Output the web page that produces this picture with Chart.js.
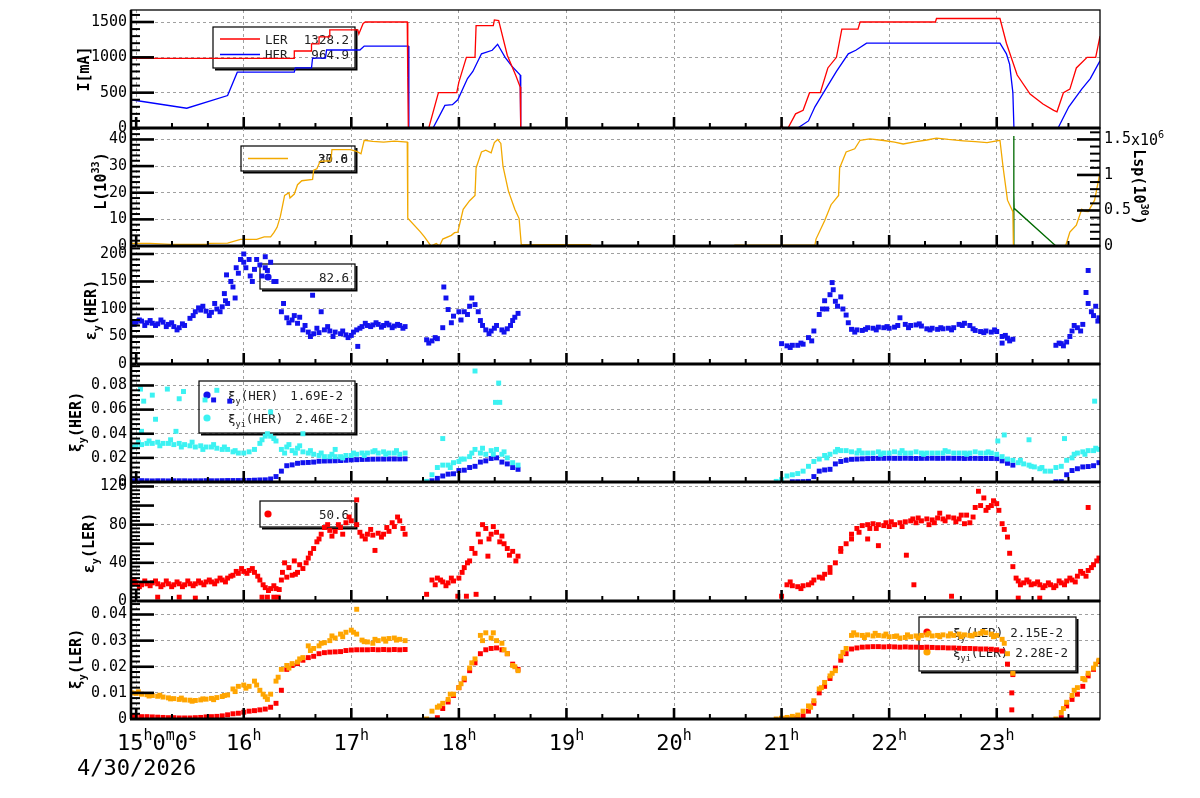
<!DOCTYPE html>
<html>
<head>
<meta charset="utf-8">
<title>Beam trend</title>
<script src="https://cdn.jsdelivr.net/npm/chart.js@4.4.1/dist/chart.umd.min.js"></script>
<style>
  body { margin: 0; background: #fff; width: 1200px; height: 798px; overflow: hidden; position: relative; }
  canvas { position: absolute; left: 0; }
</style>
</head>
<body>
<script>
// ---- time axis (hours of 4/30/2026) ----
const X_MIN = 14.952, X_MAX = 23.96
const hourTicks = [15, 16, 17, 18, 19, 20, 21, 22, 23]

// scan times of the scatter series (hours)
const tScan = [
  14.96,15.00,15.05,15.10,15.15,15.20,15.25,15.30,15.35,15.40,
  15.45,15.50,15.55,15.60,15.65,15.70,15.75,15.80,15.85,15.90,
  15.95,16.00,16.05,16.10,16.15,16.20,16.25,16.30,16.35,16.40,
  16.45,16.50,16.55,16.60,16.65,16.70,16.75,16.80,16.85,16.90,
  16.95,17.00,17.05,17.10,17.15,17.20,17.25,17.30,17.35,17.40,
  17.45,17.50,
  17.70,17.75,17.80,17.85,17.90,17.95,18.00,18.05,18.10,18.15,
  18.20,18.25,18.30,18.35,18.40,18.45,18.50,18.55,
  20.95,21.00,21.05,21.10,21.15,21.20,21.25,21.30,21.35,21.40,
  21.45,21.50,21.55,21.60,21.65,21.70,21.75,21.80,21.85,21.90,
  21.95,22.00,22.05,22.10,22.15,22.20,22.25,22.30,22.35,22.40,
  22.45,22.50,22.55,22.60,22.65,22.70,22.75,22.80,22.85,22.90,
  22.95,23.00,23.05,23.10,23.15,
  23.20,23.25,23.30,23.35,23.40,23.45,
  23.50,23.55,23.60,23.65,23.70,23.75,23.80,23.85,23.90,23.95
]

// ---- beam currents [mA] ----
const tLER = [14.952,16.47,16.47,16.63,16.63,16.70,16.70,16.80,16.80,17.06,17.07,17.11,17.13,17.52,17.525,17.53,
  17.72,17.81,17.98,18.00,18.05,18.07,18.15,18.16,18.32,18.33,18.37,18.45,18.53,18.57,18.575,
  20.98,21.00,21.02,21.06,21.13,21.20,21.26,21.36,21.43,21.51,
  21.56,21.71,21.73,22.43,22.44,23.03,23.09,23.19,23.31,23.43,
  23.53,23.56,23.62,23.68,23.74,23.84,23.92,23.96]
const iLER = [985,985,1090,1090,1190,1190,1290,1290,1390,1390,1330,1480,1500,1500,720,0,
  0,500,500,650,900,1000,1000,1450,1450,1530,1520,1030,740,580,0,
  0,30,0,0,200,250,500,500,850,1000,
  1400,1400,1500,1500,1550,1550,1200,750,480,340,
  250,230,500,550,850,1000,1000,1300]
const tHER = [14.952,15.47,15.85,15.94,16.47,16.48,16.63,16.64,16.76,16.77,17.08,17.12,17.53,17.535,
  17.76,17.87,17.94,17.99,18.08,18.13,18.21,18.31,18.36,18.43,18.49,18.57,18.575,
  21.15,21.25,21.31,21.39,21.51,21.62,21.69,21.79,23.03,23.09,23.12,23.15,23.16,
  23.57,23.67,23.79,23.87,23.96]
const iHER = [400,280,460,790,790,850,850,990,990,1104,1104,1160,1160,0,
  0,320,330,400,700,800,1050,1100,1185,1000,880,750,0,
  0,100,300,500,800,1050,1100,1200,1200,1050,900,500,0,
  0,300,550,700,950]

// ---- luminosity L [1e33] and Lsp [1e30 x 1e6] ----
const tLum = [14.952,15.13,15.32,15.66,15.67,15.85,15.97,16.12,16.19,16.25,
  16.28,16.31,16.34,16.36,16.38,16.42,16.43,16.47,16.50,16.54,
  16.64,16.65,16.68,16.71,16.81,16.82,16.99,17.05,17.09,17.12,
  17.20,17.30,17.40,17.52,17.525,17.64,17.68,17.74,17.79,17.82,
  17.85,17.93,17.96,17.99,18.04,18.10,18.15,18.16,18.21,18.25,
  18.30,18.33,18.36,18.39,18.41,18.46,18.52,18.56,18.58,19.23,
  19.90,20.56,21.31,21.32,21.40,21.46,21.53,21.54,21.60,21.68,
  21.73,21.82,21.95,22.05,22.13,22.25,22.35,22.44,22.55,22.69,
  22.80,22.91,23.03,23.06,23.10,23.15,23.155,23.64,23.68,23.74,
  23.79,23.82,23.85,23.91,23.96]
const lum = [1.0,1.0,0.6,0.6,1.0,1.1,2.5,2.5,3.4,3.4,
  5,7,11,15,19,20,18,19.5,23,24.5,
  25,28.5,29,31.8,32,36.2,36.2,35.5,34.6,39.7,
  39.3,39,39.4,39,10.4,5.4,3.4,0,0.9,0,
  2.6,4,5,5.2,13.8,17,19,29.3,35.3,36,
  35,38.8,40,38.5,30,20.7,13.8,10.3,0.5,0.5,
  null,0.3,0.3,2.6,9.5,15.5,19,29.3,35.3,36.5,
  39.7,40.2,39.6,39.0,38.3,39.2,39.8,40.5,40.0,39.5,
  39.2,38.8,39.7,29.3,17.2,12.9,0,0,5.2,7.8,
  13.8,13,12.9,17.2,27.6]
const tLsp = [23.155, 23.158, 23.16, 23.162, 23.55]
const lsp = [0, 1.55, 0.75, 0.53, 0]

// ---- vertical emittance HER ----
const epsHER = [
  77,76,78,75,74,73,76,72,68,66,
  70,83,95,98,96,94,100,104,110,140,
  165,185,190,172,180,175,185,150,95,84,
  80,74,62,58,55,57,62,60,58,55,
  53,52,62,68,70,71,72,70,71,69,
  70,68,
  44,42,46,66,99,87,95,95,105,108,
  79,62,60,70,62,64,79,92,
  null,37,33,34,34,36,48,60,90,115,
  126,114,122,89,63,62,61,66,65,67,
  66,65,67,84,72,70,71,69,64,65,
  63,64,65,66,72,74,70,61,59,60,
  58,59,50,47,45,
  null,null,null,null,null,null,
  null,34,37,40,60,66,72,110,88,84
]
const epsHERout = [[15.82,128],[15.84,162],[15.92,120],[16.0,200],[16.08,150],[16.2,195],[16.28,150],
  [16.64,125],[16.72,95],[17.06,32],[17.86,140],[18.12,120],[21.47,148],[23.05,38],[23.83,130],[23.85,170],
  [14.98,72],[15.03,80],[15.08,70],[15.13,79],[15.18,70],[15.23,80],[15.28,68],[15.33,75],[15.38,62],[15.43,73],
  [15.53,88],[15.58,102],[15.62,105],[15.68,88],[15.73,110],[15.78,95],[15.83,115],[15.88,150],[15.93,175],
  [15.97,190],[16.02,175],[16.06,160],[16.12,190],[16.17,160],[16.22,170],[16.37,110],[16.42,75],[16.47,88],
  [16.52,85],[16.57,70],[16.62,50],[16.68,65],[16.78,68],[16.83,50],[16.92,60],[16.97,48],[17.02,58],
  [17.08,65],[17.13,74],[17.18,68],[17.23,75],[17.28,67],[17.33,74],[17.38,66],[17.43,72],[17.48,65],
  [17.72,38],[17.78,48],[17.88,120],[17.93,75],[18.02,80],[18.08,90],[18.18,95],[18.22,70],[18.28,55],
  [18.33,65],[18.42,58],[18.48,70],[18.52,85],
  [21.08,30],[21.18,38],[21.28,42],[21.38,100],[21.42,100],[21.48,135],[21.52,105],[21.57,100],[21.62,75],
  [21.68,58],[21.78,63],[21.88,62],[21.98,68],[22.08,70],[22.18,66],[22.28,73],[22.38,62],[22.48,66],
  [22.58,62],[22.68,70],[22.78,64],[22.88,57],[22.98,62],[23.08,52],[23.12,42],
  [23.58,38],[23.62,33],[23.68,50],[23.72,70],[23.78,60],[23.88,95],[23.92,105],[23.94,78]]

// ---- beam-beam xi_y HER ----
const xiHER = [
  .0010,.0010,.0011,.0010,.0009,.0010,.0010,.0009,.0010,.0010,
  .0010,.0009,.0010,.0010,.0011,.0010,.0010,.0011,.0012,.0012,
  .0012,.0013,.0013,.0015,.0017,.0018,.0025,.0045,.0090,.0135,
  .0142,.0155,.0160,.0162,.0165,.0172,.0174,.0175,.0176,.0178,
  .0180,.0183,.0185,.0187,.0188,.0189,.0190,.0190,.0191,.0191,
  .0191,.0192,
  null,.0010,.0030,.0050,.0065,.0068,.0095,.0098,.0120,.0130,
  .0165,.0175,.0195,.0200,.0165,.0150,.0120,.0105,
  null,null,null,.0002,.0002,.0003,.0005,.0045,.0090,.0100,
  .0105,.0150,.0170,.0180,.0188,.0190,.0192,.0194,.0195,.0196,
  .0196,.0197,.0196,.0196,.0197,.0196,.0195,.0196,.0196,.0197,
  .0196,.0196,.0197,.0196,.0196,.0195,.0196,.0196,.0195,.0195,
  .0195,.0194,.0175,.0155,.0140,
  null,null,null,null,null,null,
  null,.0002,.0003,.0060,.0095,.0110,.0125,.0128,.0135,.0160
]
const xiHERout = [[15.72,.068],[15.87,.067]]
const xiiHER = [
  .029,.030,.031,.032,.032,.033,.032,.032,.031,.032,
  .031,.030,.029,.030,.029,.029,.028,.027,.027,.025,
  .024,.024,.025,.027,.032,.038,.038,.034,.027,.029,
  .026,.028,.025,.024,.023,.022,.021,.021,.021,.021,
  .022,.022,.023,.024,.024,.025,.024,.025,.024,.024,
  .023,.024,
  .0005,.006,.012,.014,.014,.016,.017,.019,.021,.027,
  .024,.023,.026,.027,.023,.020,.016,.014,
  .0005,.002,.005,.006,.007,.009,.013,.017,.019,.022,
  .023,.025,.026,.026,.025,.024,.024,.024,.024,.025,
  .024,.024,.025,.024,.024,.024,.025,.024,.024,.024,
  .024,.024,.025,.024,.024,.024,.024,.025,.024,.024,
  .024,.023,.021,.019,.018,
  .016,.015,.014,.0125,.011,.009,
  .009,.012,.013,.018,.020,.024,.025,.026,.026,.027
]
const xiiHERout = [[15.04,.077],[15.29,.077],[15.15,.072],[15.07,.067],[15.40,.069],[15.44,.075],[15.18,.052],
  [15.64,.068],[15.75,.076],[16.25,.058],[15.05,.042],[15.37,.042],[16.55,.040],[16.85,.027],
  [17.85,.036],[18.15,.092],[18.37,.082],[18.34,.066],[18.38,.066],
  [23.01,.034],[23.07,.039],[23.30,.035],[23.63,.036],[23.91,.067],
  [15.02,.033],[15.12,.034],[15.22,.030],[15.32,.035],[15.42,.029],[15.52,.033],[15.62,.027],[15.72,.031],
  [15.82,.029],[15.92,.026],[16.17,.035],[16.22,.040],[16.28,.036],[16.38,.024],[16.42,.031],[16.48,.024],
  [16.52,.030],[16.62,.026],[16.72,.024],[16.82,.023],[16.92,.020],[17.02,.024],[17.12,.022],[17.22,.026],
  [17.32,.023],[17.42,.026],[17.92,.012],[18.02,.019],[18.12,.024],[18.22,.028],[18.32,.023],[18.42,.025],
  [21.42,.020],[21.52,.027],[21.72,.026],[21.92,.023],[22.12,.026],[22.32,.023],[22.52,.026],[22.72,.023],
  [22.92,.025],[23.22,.018],[23.32,.013],[23.42,.012],[23.72,.023],[23.82,.023],[23.92,.028]]

// ---- vertical emittance LER ----
const epsLER = [
  18,19,17,18,19,18,17,18,17,18,
  17,18,18,19,20,20,21,22,24,27,
  29,31,32,30,22,14,13,13,22,25,
  27,30,34,45,55,65,77,74,73,77,
  82,84,80,68,70,69,71,70,73,78,
  84,70,
  7,22,24,20,19,21,24,35,42,50,
  62,76,70,72,68,55,52,47,
  null,5,17,16,15,16,17,22,25,28,
  35,40,52,60,70,76,79,80,81,80,
  79,78,80,82,83,84,82,84,86,85,
  87,86,88,87,86,81,82,98,100,95,
  100,102,81,67,36,
  21,19,20,18,17,16,
  17,16,19,21,22,26,29,32,38,45
]
const epsLEROut = [[15.2,4],[15.4,4],[15.55,3],[16.17,4],[16.22,4],[16.28,4],[16.32,4],[16.38,40],[16.47,42],
  [17.05,106],[17.22,53],[17.99,5],[18.07,5],[18.16,7],[18.27,47],[21.8,65],[21.9,58],
  [22.16,48],[22.23,17],[22.58,5],[22.83,115],[23.2,3],[23.4,3],[23.85,98],
  [14.98,22],[15.03,15],[15.08,21],[15.13,16],[15.18,21],[15.23,15],[15.28,21],[15.33,15],[15.38,20],
  [15.43,15],[15.48,21],[15.53,16],[15.58,21],[15.63,17],[15.68,22],[15.73,18],[15.78,24],[15.83,20],
  [15.88,26],[15.93,31],[15.98,34],[16.03,29],[16.08,34],[16.13,26],[16.18,17],[16.23,11],[16.28,16],
  [16.33,12],[16.36,30],[16.42,35],[16.48,28],[16.52,38],[16.58,40],[16.62,50],[16.68,62],[16.72,70],
  [16.78,80],[16.82,68],[16.88,80],[16.92,70],[16.98,88],[17.08,72],[17.13,65],[17.18,75],[17.28,67],
  [17.33,77],[17.38,82],[17.43,88],[17.48,76],
  [17.78,17],[17.83,22],[17.88,16],[17.93,24],[18.03,30],[18.08,40],[18.12,55],[18.18,70],[18.22,80],
  [18.28,65],[18.32,78],[18.38,62],[18.42,60],[18.47,48],[18.53,42],
  [21.08,20],[21.18,13],[21.28,19],[21.38,24],[21.45,30],[21.55,55],[21.65,65],[21.72,72],[21.82,76],
  [21.88,76],[21.97,82],[22.02,83],[22.12,78],[22.22,86],[22.27,87],[22.37,80],[22.42,82],[22.47,92],
  [22.52,84],[22.62,83],[22.67,90],[22.72,90],[22.78,88],[22.88,108],[22.92,98],[22.97,105],[23.02,95],
  [23.07,75],[23.12,50],[23.18,24],[23.22,17],[23.28,22],[23.32,17],[23.38,20],[23.43,14],[23.48,19],
  [23.53,14],[23.58,21],[23.63,17],[23.68,24],[23.73,20],[23.78,31],[23.83,26],[23.88,35],[23.93,42]]

// ---- beam-beam xi_y LER ----
const xiLER = [
  .0010,.0010,.0009,.0009,.0008,.0007,.0006,.0005,.0005,.0004,
  .0004,.0004,.0005,.0006,.0008,.0009,.0010,.0012,.0016,.0020,
  .0022,.0026,.0030,.0032,.0035,.0038,.0045,.0060,.0110,.0190,
  .0205,.0212,.0225,.0235,.0240,.0250,.0254,.0256,.0257,.0258,
  .0262,.0264,.0265,.0265,.0265,.0266,.0265,.0266,.0265,.0266,
  .0265,.0266,
  null,null,.0005,.0040,.0065,.0090,.0120,.0150,.0185,.0215,
  .0250,.0265,.0270,.0272,.0265,.0250,.0210,.0190,
  null,.0002,.0002,.0003,.0005,.0012,.0030,.0060,.0100,.0125,
  .0155,.0195,.0225,.0250,.0268,.0272,.0275,.0276,.0277,.0277,
  .0276,.0277,.0276,.0275,.0276,.0275,.0275,.0274,.0275,.0274,
  .0273,.0273,.0272,.0272,.0271,.0270,.0270,.0269,.0268,.0268,
  .0267,.0265,.0260,.0210,.0170,
  null,null,null,null,null,null,
  null,null,.0005,.0050,.0075,.0095,.0125,.0165,.0190,.0220
]
const xiLERout = [[23.14,.010],[23.14,.0035]]
const xiiLER = [
  .0100,.0098,.0095,.0093,.0090,.0087,.0084,.0081,.0078,.0075,
  .0073,.0072,.0071,.0073,.0076,.0079,.0082,.0086,.0092,.0115,
  .0125,.0130,.0125,.0145,.0110,.0085,.0095,.0145,.0190,.0205,
  .0212,.0218,.0235,.0280,.0270,.0280,.0292,.0300,.0310,.0325,
  .0332,.0340,.0325,.0302,.0295,.0290,.0300,.0306,.0308,.0310,
  .0305,.0300,
  .0000,.0030,.0045,.0060,.0075,.0095,.0120,.0156,.0195,.0230,
  .0320,.0330,.0310,.0300,.0290,.0250,.0205,.0185,
  .0000,.0003,.0006,.0010,.0015,.0030,.0050,.0070,.0115,.0140,
  .0165,.0185,.0240,.0270,.0320,.0322,.0320,.0322,.0318,.0320,
  .0318,.0315,.0316,.0310,.0312,.0315,.0318,.0320,.0322,.0318,
  .0320,.0322,.0318,.0320,.0325,.0322,.0320,.0325,.0328,.0330,
  .0325,.0320,.0305,.0250,.0175,
  null,null,null,null,null,null,
  null,.0000,.0025,.0064,.0090,.0120,.0155,.0175,.0195,.0225
]
const xiiLERout = [[17.05,.042],
  [15.02,.0104],[15.12,.0088],[15.22,.0091],[15.32,.0077],[15.42,.0080],[15.52,.0068],[15.62,.0077],
  [15.72,.0074],[15.82,.0090],[15.92,.0105],[16.02,.0118],[16.12,.0130],[16.18,.0095],[16.22,.0075],
  [16.32,.0160],[16.42,.0195],[16.52,.0230],[16.62,.0262],[16.72,.0290],[16.82,.0318],[16.92,.0315],
  [17.02,.0332],[17.12,.0296],[17.22,.0305],[17.32,.0298],[17.42,.0302],
  [17.82,.0050],[17.92,.0095],[18.02,.0135],[18.12,.0215],[18.22,.0300],[18.32,.0330],[18.42,.0265],
  [18.52,.0200],[21.27,.0045],[21.37,.0120],[21.47,.0175],[21.57,.0255],[21.67,.0330],[21.77,.0312],
  [21.87,.0328],[21.97,.0325],[22.07,.0318],[22.17,.0322],[22.27,.0310],[22.37,.0328],[22.47,.0315],
  [22.57,.0326],[22.67,.0315],[22.77,.0318],[22.87,.0335],[22.97,.0315],[23.07,.0290],
  [23.62,.0040],[23.72,.0110],[23.82,.0150],[23.92,.0210]]

// ---- y tick values ----
const ticksI = [0, 500, 1000, 1500]
const ticksL = [0, 10, 20, 30, 40]
const ticksLsp = [0, 0.5, 1, 1.5]
const ticksEpsHER = [0, 50, 100, 150, 200]
const ticksXiHER = [0, 0.02, 0.04, 0.06, 0.08]
const ticksEpsLER = [0, 20, 40, 60, 80, 100, 120]
const ticksXiLER = [0, 0.01, 0.02, 0.03, 0.04]

const MONO = '"DejaVu Sans Mono", monospace'
const GRID = '#a0a0a0'
Chart.defaults.font.family = MONO
Chart.defaults.animation = false

const fmt = v => (v === 0 ? '0' : String(+v.toFixed(3)))
const scan = vals => tScan.map((t, i) => ({ x: t, y: vals[i] })).filter(p => p.y !== null)
const pairs = arr => arr.map(p => ({ x: p[0], y: p[1] }))
const lineSet = (ts, vs, color, axis) => ({
  data: ts.map((t, i) => ({ x: t, y: vs[i] })), showLine: true, borderColor: color,
  borderWidth: 1.3, pointRadius: 0, tension: 0, yAxisID: axis || 'y'
})
const dotSet = (vals, out, color) => ({
  data: scan(vals).concat(pairs(out)), showLine: false, pointStyle: 'rect',
  pointRadius: 3.5, backgroundColor: color, borderWidth: 0
})

function drawRich(ctx, parts, x, y, size, weight) {
  let cx = x
  for (const [txt, kind] of parts) {
    const s = kind === 'n' ? size : size * 0.68
    const dy = kind === 'sub' ? size * 0.32 : kind === 'sup' ? -size * 0.45 : 0
    ctx.font = weight + ' ' + s + 'px ' + MONO
    ctx.fillText(txt, cx, y + dy)
    cx += ctx.measureText(txt).width
  }
  return cx - x
}
function richWidth(ctx, parts, size, weight) {
  let w = 0
  for (const [txt, kind] of parts) {
    ctx.font = weight + ' ' + (kind === 'n' ? size : size * 0.68) + 'px ' + MONO
    w += ctx.measureText(txt).width
  }
  return w
}

function drawLegend(ctx, lg, top) {
  const [x0, y0, x1, y1] = lg.box
  ctx.save()
  ctx.setLineDash([])
  ctx.strokeStyle = '#000'
  ctx.lineWidth = 1.2
  ctx.strokeRect(x0, y0 - top, x1 - x0, y1 - y0)
  ctx.lineWidth = 2
  ctx.beginPath()
  ctx.moveTo(x0 + 2, y1 - top + 1.5); ctx.lineTo(x1 + 1.5, y1 - top + 1.5); ctx.lineTo(x1 + 1.5, y0 - top + 2)
  ctx.stroke()
  ctx.textAlign = 'left'
  ctx.textBaseline = 'alphabetic'
  for (const r of lg.rows) {
    const y = r.y - top
    if (r.kind === 'line') {
      ctx.strokeStyle = r.color; ctx.lineWidth = 1.3
      ctx.beginPath(); ctx.moveTo(lg.m0, y); ctx.lineTo(lg.m1, y); ctx.stroke()
    } else {
      ctx.fillStyle = r.color
      ctx.beginPath(); ctx.arc(lg.m0, y, 3.6, 0, Math.PI * 2); ctx.fill()
    }
    ctx.fillStyle = '#222'
    ctx.textAlign = 'left'
    if (r.text) drawRich(ctx, r.text, lg.tx, y + 4.5, 12.5, 'normal')
    ctx.textAlign = 'right'
    ctx.font = '12.5px ' + MONO
    for (const v of r.vals) ctx.fillText(v, r.vx, y + 4.5)
  }
  ctx.restore()
}

const panels = [
  { top: 10, bottom: 128, max: 1670, ticks: ticksI, title: [['I[mA]', 'n']], tx: 89, ty: 69,
    datasets: [lineSet(tLER, iLER, '#ff0000'), lineSet(tHER, iHER, '#0000ff')],
    legend: { box: [213, 27, 355, 68], m0: 220, m1: 260, tx: 265, rows: [
      { y: 39, kind: 'line', color: '#ff0000', text: [['LER', 'n']], vals: ['1328.2'], vx: 349 },
      { y: 54.5, kind: 'line', color: '#0000ff', text: [['HER', 'n']], vals: ['964.9'], vx: 349 }] } },
  { top: 128, bottom: 246, max: 44.3, ticks: ticksL, title: [['L(10', 'n'], ['33', 'sup'], [')', 'n']], tx: 106, ty: 181,
    right: { max: 1.661, ticks: ticksLsp },
    datasets: [lineSet(tLum, lum, '#f2a900'), lineSet(tLsp, lsp, '#006a00', 'y1')],
    legend: { box: [241, 146, 355, 171], m0: 248, m1: 288, tx: 0, rows: [
      { y: 158.5, kind: 'line', color: '#f2a900', text: null, vals: ['27.0', '30.6'], vx: 348 }] } },
  { top: 246, bottom: 364, max: 214.5, ticks: ticksEpsHER, title: [['ε', 'n'], ['y', 'sub'], ['(HER)', 'n']], tx: 96, ty: 310,
    datasets: [dotSet(epsHER, epsHERout, '#1212ee')],
    legend: { box: [260, 264, 355, 289], m0: 268, tx: 0, rows: [
      { y: 277, kind: 'dot', color: '#1212ee', text: null, vals: ['82.6'], vx: 349 }] } },
  { top: 364, bottom: 482, max: 0.0978, ticks: ticksXiHER, title: [['ξ', 'n'], ['y', 'sub'], ['(HER)', 'n']], tx: 81, ty: 422,
    datasets: [dotSet(xiiHER, xiiHERout, '#3cf2f2'), dotSet(xiHER, xiHERout, '#1212ee')],
    legend: { box: [199, 381, 355, 433], m0: 207, tx: 228, rows: [
      { y: 395, kind: 'dot', color: '#1212ee', text: [['ξ', 'n'], ['y', 'sub'], ['(HER)', 'n']], vals: ['1.69E-2'], vx: 343 },
      { y: 418, kind: 'dot', color: '#3cf2f2', text: [['ξ', 'n'], ['yi', 'sub'], ['(HER)', 'n']], vals: ['2.46E-2'], vx: 348 }] } },
  { top: 482, bottom: 601, max: 124.7, ticks: ticksEpsLER, title: [['ε', 'n'], ['y', 'sub'], ['(LER)', 'n']], tx: 94, ty: 543,
    datasets: [dotSet(epsLER, epsLEROut, '#ff0000')],
    legend: { box: [260, 501, 355, 527], m0: 268, tx: 0, rows: [
      { y: 514, kind: 'dot', color: '#ff0000', text: null, vals: ['50.6'], vx: 349 }] } },
  { top: 601, bottom: 719, max: 0.04517, ticks: ticksXiLER, title: [['ξ', 'n'], ['y', 'sub'], ['(LER)', 'n']], tx: 81, ty: 659,
    last: true,
    datasets: [dotSet(xiiLER, xiiLERout, '#ffa500'), dotSet(xiLER, xiLERout, '#ff0000')],
    legend: { box: [919, 617, 1076, 671], m0: 927, tx: 953, rows: [
      { y: 632, kind: 'dot', color: '#ff0000', text: [['ξ', 'n'], ['y', 'sub'], ['(LER)', 'n']], vals: ['2.15E-2'], vx: 1063 },
      { y: 652, kind: 'dot', color: '#ffa500', text: [['ξ', 'n'], ['yi', 'sub'], ['(LER)', 'n']], vals: ['2.28E-2'], vx: 1068 }] } }
]

function decor(p, top) {
  return {
    id: 'decor',
    beforeDatasetsDraw(chart) { drawLegend(chart.ctx, p.legend, top) },
    afterDraw(chart) {
      const ctx = chart.ctx, a = chart.chartArea, xs = chart.scales.x, ys = chart.scales.y
      ctx.save()
      ctx.setLineDash([])
      ctx.strokeStyle = '#000'
      ctx.fillStyle = '#000'
      // y ticks drawn inside the frame
      const step = p.ticks[1] - p.ticks[0]
      for (let k = 1; k * step / 5 <= p.max; k++) {
        const y = ys.getPixelForValue(k * step / 5), major = k % 5 === 0
        ctx.lineWidth = major ? 2.6 : 2
        ctx.beginPath(); ctx.moveTo(a.left, y); ctx.lineTo(a.left + (major ? 23 : 9), y); ctx.stroke()
      }
      if (p.right) {
        const ry = chart.scales.y1, rs = p.right.ticks[1] - p.right.ticks[0]
        for (let k = 1; k * rs / 5 <= p.right.max; k++) {
          const y = ry.getPixelForValue(k * rs / 5), major = k % 5 === 0
          ctx.lineWidth = major ? 2.6 : 2
          ctx.beginPath(); ctx.moveTo(a.right, y); ctx.lineTo(a.right - (major ? 23 : 10), y); ctx.stroke()
        }
      }
      // x ticks every 20 minutes
      for (let k = 0; 15 + k / 3 <= X_MAX; k++) {
        const x = xs.getPixelForValue(15 + k / 3), major = k % 3 === 0
        ctx.lineWidth = major ? 2.6 : 2
        ctx.beginPath(); ctx.moveTo(x, a.bottom); ctx.lineTo(x, a.bottom - (major ? 11 : 5)); ctx.stroke()
      }
      // frame
      ctx.lineWidth = 1.3
      ctx.strokeRect(a.left, a.top, a.right - a.left, a.bottom - a.top)
      ctx.lineWidth = 2.6
      ctx.beginPath(); ctx.moveTo(a.left, a.top); ctx.lineTo(a.left, a.bottom); ctx.stroke()
      ctx.lineWidth = 3
      ctx.beginPath(); ctx.moveTo(a.left - 1, a.bottom); ctx.lineTo(a.right, a.bottom); ctx.stroke()
      // axis title
      ctx.textAlign = 'left'
      ctx.textBaseline = 'alphabetic'
      ctx.save()
      ctx.translate(p.tx, p.ty - top)
      ctx.rotate(-Math.PI / 2)
      drawRich(ctx, p.title, -richWidth(ctx, p.title, 15, 'bold') / 2, 0, 15, 'bold')
      ctx.restore()
      if (p.right) {
        const rt = [['Lsp(10', 'n'], ['30', 'sup'], [')', 'n']]
        ctx.save()
        ctx.translate(1134, 187 - top)
        ctx.rotate(Math.PI / 2)
        drawRich(ctx, rt, -richWidth(ctx, rt, 15, 'bold') / 2, 0, 15, 'bold')
        ctx.restore()
        drawRich(ctx, [['x10', 'n'], ['6', 'sup']], 1131, 144.5 - top, 15, 'normal')
      }
      if (p.last) {
        const base = 750 - top
        drawRich(ctx, [['15', 'n'], ['h', 'sup'], ['0', 'n'], ['m', 'sup'], ['0', 'n'], ['s', 'sup']], 117, base, 22, 'normal')
        for (const h of hourTicks.slice(1)) {
          const parts = [[String(h), 'n'], ['h', 'sup']]
          drawRich(ctx, parts, xs.getPixelForValue(h) - richWidth(ctx, parts, 22, 'normal') / 2, base, 22, 'normal')
        }
        drawRich(ctx, [['4/30/2026', 'n']], 77, 775 - top, 22, 'normal')
      }
      ctx.restore()
    }
  }
}

panels.forEach(p => {
  const padT = 15, padB = p.last ? 75 : 15
  const top = p.top - padT
  const cv = document.createElement('canvas')
  cv.width = 1200
  cv.height = p.bottom - p.top + padT + padB
  cv.style.top = top + 'px'
  document.body.appendChild(cv)

  const scales = {
    x: {
      type: 'linear', min: X_MIN, max: X_MAX,
      afterBuildTicks: s => { s.ticks = hourTicks.map(v => ({ value: v })) },
      afterFit: s => { s.height = 0 },
      ticks: { display: false },
      grid: { color: GRID, lineWidth: 1, drawTicks: false },
      border: { display: false, dash: [3, 3] }
    },
    y: {
      type: 'linear', position: 'left', min: 0, max: p.max,
      afterBuildTicks: s => { s.ticks = p.ticks.map(v => ({ value: v })) },
      afterFit: s => { s.width = 131 },
      ticks: { callback: fmt, padding: 4, color: '#000', font: { size: 15 } },
      grid: { color: GRID, lineWidth: 1, drawTicks: false },
      border: { display: false, dash: [3, 3] }
    }
  }
  if (p.right) {
    scales.y1 = {
      type: 'linear', position: 'right', min: 0, max: p.right.max,
      afterBuildTicks: s => { s.ticks = p.right.ticks.map(v => ({ value: v })) },
      afterFit: s => { s.width = 100 },
      ticks: { callback: fmt, padding: 4, color: '#000', font: { size: 15 } },
      grid: { display: false, drawTicks: false },
      border: { display: false }
    }
  }

  new Chart(cv, {
    type: 'scatter',
    data: { datasets: p.datasets },
    options: {
      responsive: false,
      devicePixelRatio: 1,
      events: [],
      layout: { autoPadding: false, padding: { top: padT, bottom: padB, left: 0, right: p.right ? 0 : 100 } },
      plugins: { legend: { display: false }, tooltip: { enabled: false } },
      scales: scales
    },
    plugins: [decor(p, top)]
  })
})
</script>
</body>
</html>
